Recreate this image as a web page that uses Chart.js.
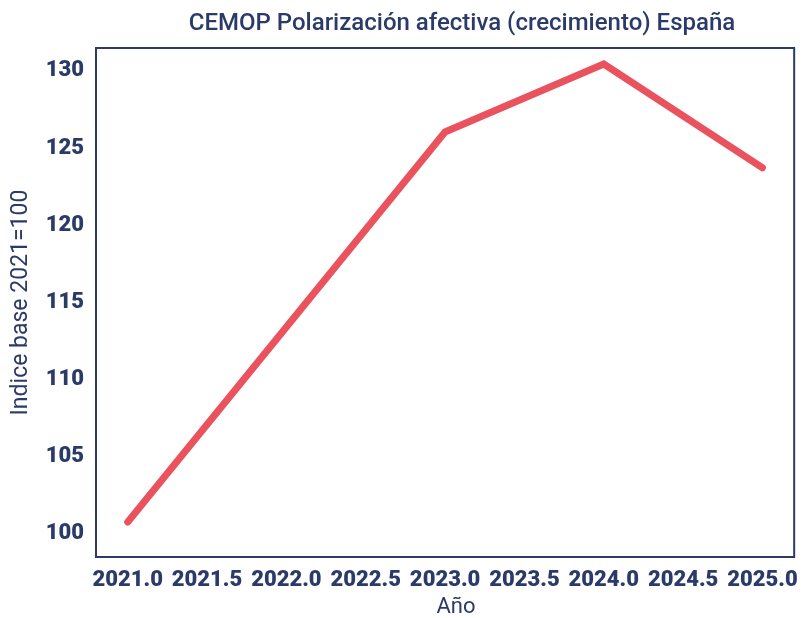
<!DOCTYPE html>
<html>
<head>
<meta charset="utf-8">
<script src="https://cdn.jsdelivr.net/npm/chart.js@4.4.1/dist/chart.umd.min.js"></script>
<style>
  html, body { margin: 0; padding: 0; background: #ffffff; }
  #wrap { width: 808px; height: 618px; position: relative; }
</style>
</head>
<body>
<div id="wrap"><canvas id="c" width="808" height="618"></canvas></div>
<script>
const titleText = "CEMOP Polarización afectiva (crecimiento) España";
const xAxisTitle = "Año";
const yAxisTitle = "Indice base 2021=100";
const years = [2021, 2023, 2024, 2025];
const indexValues = [100.73, 126.04, 130.45, 123.72];
const xTickValues = [2021.0, 2021.5, 2022.0, 2022.5, 2023.0, 2023.5, 2024.0, 2024.5, 2025.0];
const yTickValues = [100, 105, 110, 115, 120, 125, 130];

const NAVY = "#2b3b69";
const RED = "#ea525e";

const framePlugin = {
  id: "frame",
  afterDraw(chart) {
    const { ctx, chartArea: a } = chart;
    ctx.save();
    ctx.strokeStyle = NAVY;
    ctx.lineWidth = 2;
    ctx.strokeRect(a.left, a.top, a.right - a.left, a.bottom - a.top);
    ctx.fillStyle = NAVY;
    ctx.textAlign = "center";
    ctx.textBaseline = "middle";
    ctx.font = "500 24px Roboto";
    ctx.fillText(titleText, 462, 24);
    ctx.font = "400 22px Roboto";
    ctx.fillText(xAxisTitle, 456, 607);
    ctx.restore();
  }
};

new Chart(document.getElementById("c"), {
  type: "line",
  data: {
    datasets: [{
      data: years.map((y, i) => ({ x: y, y: indexValues[i] })),
      borderColor: RED,
      borderWidth: 7,
      borderCapStyle: "round",
      borderJoinStyle: "miter",
      pointRadius: 0,
      tension: 0,
      fill: false
    }]
  },
  options: {
    responsive: false,
    animation: false,
    devicePixelRatio: 1,
    layout: { padding: { top: 48, right: 8, left: 0, bottom: 0 } },
    plugins: { legend: { display: false }, tooltip: { enabled: false }, title: { display: false } },
    scales: {
      x: {
        type: "linear",
        min: 2020.8,
        max: 2025.2,
        grid: { display: false, drawTicks: false },
        border: { display: false },
        afterBuildTicks: s => { s.ticks = xTickValues.map(v => ({ value: v })); },
        afterFit: s => { s.height = 61; },
        ticks: {
          color: NAVY,
          font: { family: "Roboto", size: 22, weight: "900" },
          padding: 10,
          maxRotation: 0,
          autoSkip: false,
          callback: v => Number(v).toFixed(1)
        },
        title: { display: false }
      },
      y: {
        type: "linear",
        min: 98.46,
        max: 131.49,
        grid: { display: false, drawTicks: false },
        border: { display: false },
        afterBuildTicks: s => { s.ticks = yTickValues.map(v => ({ value: v })); },
        afterFit: s => { s.width = 96; },
        ticks: {
          color: NAVY,
          font: { family: "Roboto", size: 22, weight: "900" },
          padding: 12,
          autoSkip: false,
          callback: v => String(v)
        },
        title: {
          display: true,
          text: yAxisTitle,
          color: NAVY,
          font: { family: "Roboto", size: 23, weight: "400" },
          padding: { top: 7, bottom: 0 }
        }
      }
    }
  },
  plugins: [framePlugin]
});
</script>
</body>
</html>
